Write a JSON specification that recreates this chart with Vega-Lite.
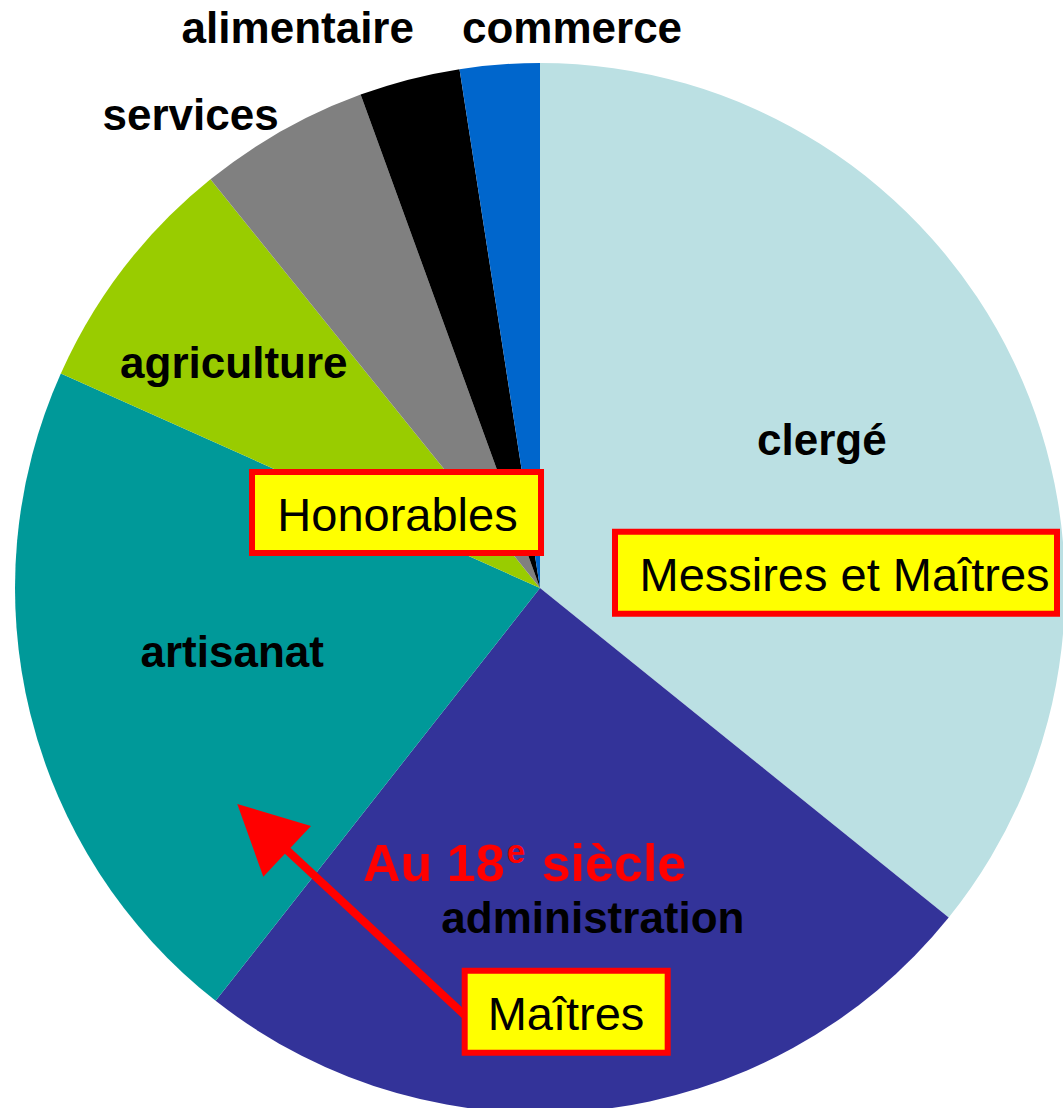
{
  "$schema": "https://vega.github.io/schema/vega-lite/v6.json",
  "width": 1046,
  "height": 1040,
  "autosize": {"type": "none"},
  "padding": {"left": 17, "top": 68, "right": 0, "bottom": 0},
  "background": "white",
  "config": {"view": {"stroke": null}},
  "datasets": {
    "slices": [
      {"cat": "clergé", "pct": 35.8, "ord": 1},
      {"cat": "administration", "pct": 24.8, "ord": 2},
      {"cat": "artisanat", "pct": 21.1, "ord": 3},
      {"cat": "agriculture", "pct": 7.5, "ord": 4},
      {"cat": "services", "pct": 5.25, "ord": 5},
      {"cat": "alimentaire", "pct": 3.1, "ord": 6},
      {"cat": "commerce", "pct": 2.45, "ord": 7}
    ],
    "boxes": [
      {"label": "Honorables", "x": -0.2714, "y": 0.1438},
      {"label": "Messires et Maîtres", "x": 0.58, "y": 0.029},
      {"label": "Maîtres", "x": 0.0495, "y": -0.807}
    ],
    "notes": [
      {"note": "Au 18", "part": "main", "x": -0.3371, "y": -0.5575},
      {"note": "e", "part": "sup", "x": -0.0634, "y": -0.5238},
      {"note": "siècle", "part": "main", "x": 0.0032, "y": -0.5575}
    ],
    "arrow": [
      {"x": -0.1333, "y": -0.823, "x2": -0.4823, "y2": -0.499, "hx": -0.5766, "hy": -0.4114}
    ]
  },
  "layer": [
    {
      "data": {"name": "slices"},
      "mark": {"type": "arc", "outerRadius": 525, "stroke": null},
      "encoding": {
        "theta": {"field": "pct", "type": "quantitative", "stack": true},
        "order": {"field": "ord", "type": "quantitative"},
        "color": {"field": "cat", "type": "nominal", "legend": null,
          "scale": {"domain": ["clergé", "administration", "artisanat", "agriculture", "services", "alimentaire", "commerce"],
                    "range": ["#BBE0E3", "#333399", "#009999", "#99CC00", "#808080", "#000000", "#0066CC"]}}
      }
    },
    {
      "data": {"name": "slices"},
      "mark": {"type": "text", "radius": 318, "dx": -5, "dy": -9, "font": "Liberation Sans", "fontWeight": "bold", "fontSize": 44, "fill": "#000000", "align": "center", "baseline": "middle"},
      "encoding": {
        "theta": {"field": "pct", "type": "quantitative", "stack": true},
        "order": {"field": "ord", "type": "quantitative"},
        "text": {"condition": {"test": "datum.cat === 'clergé'", "field": "cat", "type": "nominal"}, "value": ""}
      }
    },
    {
      "data": {"name": "slices"},
      "mark": {"type": "text", "radius": 336, "dx": 15, "dy": -2, "font": "Liberation Sans", "fontWeight": "bold", "fontSize": 44, "fill": "#000000", "align": "center", "baseline": "middle"},
      "encoding": {
        "theta": {"field": "pct", "type": "quantitative", "stack": true},
        "order": {"field": "ord", "type": "quantitative"},
        "text": {"condition": {"test": "datum.cat === 'administration'", "field": "cat", "type": "nominal"}, "value": ""}
      }
    },
    {
      "data": {"name": "slices"},
      "mark": {"type": "text", "radius": 315, "dx": -2, "dy": -9, "font": "Liberation Sans", "fontWeight": "bold", "fontSize": 44, "fill": "#000000", "align": "center", "baseline": "middle"},
      "encoding": {
        "theta": {"field": "pct", "type": "quantitative", "stack": true},
        "order": {"field": "ord", "type": "quantitative"},
        "text": {"condition": {"test": "datum.cat === 'artisanat'", "field": "cat", "type": "nominal"}, "value": ""}
      }
    },
    {
      "data": {"name": "slices"},
      "mark": {"type": "text", "radius": 379, "dx": -6, "dy": 8, "font": "Liberation Sans", "fontWeight": "bold", "fontSize": 44, "fill": "#000000", "align": "center", "baseline": "middle"},
      "encoding": {
        "theta": {"field": "pct", "type": "quantitative", "stack": true},
        "order": {"field": "ord", "type": "quantitative"},
        "text": {"condition": {"test": "datum.cat === 'agriculture'", "field": "cat", "type": "nominal"}, "value": ""}
      }
    },
    {
      "data": {"name": "slices"},
      "mark": {"type": "text", "radius": 587, "dx": -61, "dy": 40, "font": "Liberation Sans", "fontWeight": "bold", "fontSize": 44, "fill": "#000000", "align": "center", "baseline": "middle"},
      "encoding": {
        "theta": {"field": "pct", "type": "quantitative", "stack": true},
        "order": {"field": "ord", "type": "quantitative"},
        "text": {"condition": {"test": "datum.cat === 'services'", "field": "cat", "type": "nominal"}, "value": ""}
      }
    },
    {
      "data": {"name": "slices"},
      "mark": {"type": "text", "radius": 608, "dx": -91, "dy": 31, "font": "Liberation Sans", "fontWeight": "bold", "fontSize": 44, "fill": "#000000", "align": "center", "baseline": "middle"},
      "encoding": {
        "theta": {"field": "pct", "type": "quantitative", "stack": true},
        "order": {"field": "ord", "type": "quantitative"},
        "text": {"condition": {"test": "datum.cat === 'alimentaire'", "field": "cat", "type": "nominal"}, "value": ""}
      }
    },
    {
      "data": {"name": "slices"},
      "mark": {"type": "text", "radius": 559, "dx": 75, "dy": -1, "font": "Liberation Sans", "fontWeight": "bold", "fontSize": 44, "fill": "#000000", "align": "center", "baseline": "middle"},
      "encoding": {
        "theta": {"field": "pct", "type": "quantitative", "stack": true},
        "order": {"field": "ord", "type": "quantitative"},
        "text": {"condition": {"test": "datum.cat === 'commerce'", "field": "cat", "type": "nominal"}, "value": ""}
      }
    },
    {
      "data": {"name": "arrow"},
      "mark": {"type": "rule", "color": "#FF0000", "strokeWidth": 8},
      "encoding": {
        "x": {"field": "x", "type": "quantitative", "scale": {"domain": [-0.99619, 0.99619], "nice": false, "zero": false}, "axis": null},
        "y": {"field": "y", "type": "quantitative", "scale": {"domain": [-0.990476, 0.990476], "nice": false, "zero": false}, "axis": null},
        "x2": {"field": "x2"},
        "y2": {"field": "y2"}
      }
    },
    {
      "data": {"name": "arrow"},
      "mark": {"type": "point", "shape": "M0,0L73.7,22L26,72.7Z", "size": 4, "filled": true, "fill": "#FF0000", "stroke": null, "opacity": 1},
      "encoding": {
        "x": {"field": "hx", "type": "quantitative", "axis": null},
        "y": {"field": "hy", "type": "quantitative", "axis": null}
      }
    },
    {
      "data": {"name": "boxes"},
      "transform": [{"filter": "datum.label === 'Honorables'"}],
      "mark": {"type": "point", "shape": "M-145.5,-40.5L143.5,-40.5L143.5,40.5L-145.5,40.5Z", "size": 4, "filled": true, "fill": "#FFFF00", "stroke": "#FF0000", "strokeWidth": 6, "strokeJoin": "miter", "opacity": 1},
      "encoding": {
        "x": {"field": "x", "type": "quantitative", "axis": null},
        "y": {"field": "y", "type": "quantitative", "axis": null}
      }
    },
    {
      "data": {"name": "boxes"},
      "transform": [{"filter": "datum.label === 'Messires et Maîtres'"}],
      "mark": {"type": "point", "shape": "M-229.5,-41L212.5,-41L212.5,41L-229.5,41Z", "size": 4, "filled": true, "fill": "#FFFF00", "stroke": "#FF0000", "strokeWidth": 6, "strokeJoin": "miter", "opacity": 1},
      "encoding": {
        "x": {"field": "x", "type": "quantitative", "axis": null},
        "y": {"field": "y", "type": "quantitative", "axis": null}
      }
    },
    {
      "data": {"name": "boxes"},
      "transform": [{"filter": "datum.label === 'Maîtres'"}],
      "mark": {"type": "point", "shape": "M-101.3,-41L101.7,-41L101.7,41L-101.3,41Z", "size": 4, "filled": true, "fill": "#FFFF00", "stroke": "#FF0000", "strokeWidth": 6, "strokeJoin": "miter", "opacity": 1},
      "encoding": {
        "x": {"field": "x", "type": "quantitative", "axis": null},
        "y": {"field": "y", "type": "quantitative", "axis": null}
      }
    },
    {
      "data": {"name": "boxes"},
      "mark": {"type": "text", "font": "Liberation Sans", "fontSize": 47, "fill": "#000000", "align": "center", "baseline": "middle", "dy": 4},
      "encoding": {
        "x": {"field": "x", "type": "quantitative", "axis": null},
        "y": {"field": "y", "type": "quantitative", "axis": null},
        "text": {"field": "label"}
      }
    },
    {
      "data": {"name": "notes"},
      "transform": [{"filter": "datum.part === 'main'"}],
      "mark": {"type": "text", "font": "Liberation Sans", "fontWeight": "bold", "fontSize": 52, "fill": "#FF0000", "align": "left", "baseline": "alphabetic"},
      "encoding": {
        "x": {"field": "x", "type": "quantitative", "axis": null},
        "y": {"field": "y", "type": "quantitative", "axis": null},
        "text": {"field": "note"}
      }
    },
    {
      "data": {"name": "notes"},
      "transform": [{"filter": "datum.part === 'sup'"}],
      "mark": {"type": "text", "font": "Liberation Sans", "fontWeight": "bold", "fontSize": 33, "fill": "#FF0000", "align": "left", "baseline": "alphabetic"},
      "encoding": {
        "x": {"field": "x", "type": "quantitative", "axis": null},
        "y": {"field": "y", "type": "quantitative", "axis": null},
        "text": {"field": "note"}
      }
    }
  ]
}
